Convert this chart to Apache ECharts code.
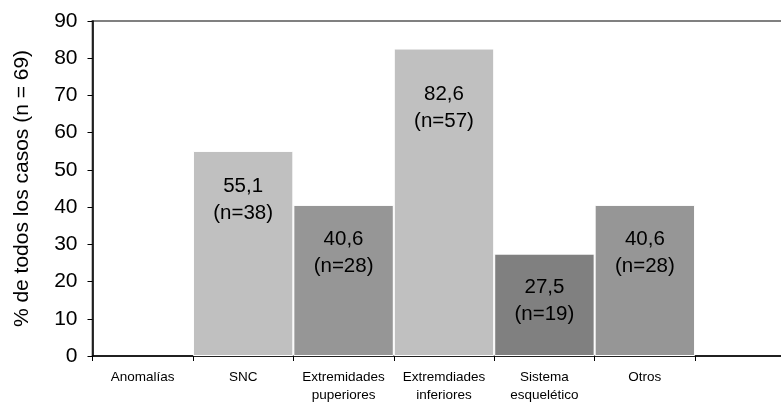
<!DOCTYPE html>
<html>
<head>
<meta charset="utf-8">
<script src="https://cdn.jsdelivr.net/npm/echarts@6/dist/echarts.min.js"></script>
<style>
  html, body { margin: 0; padding: 0; background: #fff; overflow: hidden; }
  #chart { width: 800px; height: 404px; }
</style>
</head>
<body>
<div id="chart"></div>
<script>
// Malformation categories (last slot is an empty column on the right)
const categories = ['Anomalías', 'SNC', 'Extremidades\npuperiores', 'Extremdiades\ninferiores', 'Sistema\nesquelético', 'Otros', ''];
// Percentage of all cases for each category (null = no bar)
const percents = [null, 55.1, 40.6, 82.6, 27.5, 40.6];
// Number of cases behind each percentage
const counts = [null, 38, 28, 57, 19, 28];
// Y axis ticks
const yMin = 0, yMax = 90, yStep = 10;

const FONT = 'Liberation Sans, Arial, sans-serif';
const barColors = ['#c0c0c0', '#c0c0c0', '#969696', '#c0c0c0', '#808080', '#969696'];
const labelGap = [21, 21.5, 20.5, 32.5, 20.5, 20.5];

const seriesData = percents.map((v, i) => {
  if (v === null) return { value: null };
  return {
    value: v,
    n: counts[i],
    itemStyle: { color: barColors[i] },
    label: { distance: labelGap[i] }
  };
});

const chart = echarts.init(document.getElementById('chart'), null, { renderer: 'canvas' });
chart.setOption({
  animation: false,
  backgroundColor: '#ffffff',
  grid: {
    left: 92.5, top: 21, right: 4.5, bottom: 45,
    show: true, borderColor: '#808080', borderWidth: 2, backgroundColor: '#ffffff'
  },
  xAxis: {
    type: 'category',
    data: categories,
    boundaryGap: true,
    axisLine: { lineStyle: { color: '#000', width: 1.5 } },
    axisTick: { show: true, interval: 0, length: 5, lineStyle: { color: '#000' } },
    axisLabel: {
      interval: 0, color: '#000', fontFamily: FONT,
      fontSize: 13.5, lineHeight: 18, margin: 12
    }
  },
  yAxis: {
    type: 'value',
    min: yMin, max: yMax, interval: yStep,
    name: '% de todos los casos (n = 69)',
    nameLocation: 'middle',
    nameGap: 60,
    nameTextStyle: { color: '#000', fontFamily: FONT, fontSize: 21 },
    axisLine: { show: true, lineStyle: { color: '#000', width: 1.5 } },
    axisTick: { show: true, length: 5, lineStyle: { color: '#000' } },
    axisLabel: { color: '#000', fontFamily: FONT, fontSize: 21, margin: 15 },
    splitLine: { show: false }
  },
  series: [{
    type: 'bar',
    data: seriesData,
    barCategoryGap: '0%',
    itemStyle: { borderColor: '#ffffff', borderWidth: 1 },
    label: {
      show: true,
      position: 'insideTop',
      color: '#000',
      fontFamily: FONT,
      fontSize: 20.5,
      lineHeight: 27,
      formatter: p => p.value == null ? '' :
        p.value.toFixed(1).replace('.', ',') + '\n(n=' + p.data.n + ')'
    }
  }]
});
</script>
</body>
</html>
